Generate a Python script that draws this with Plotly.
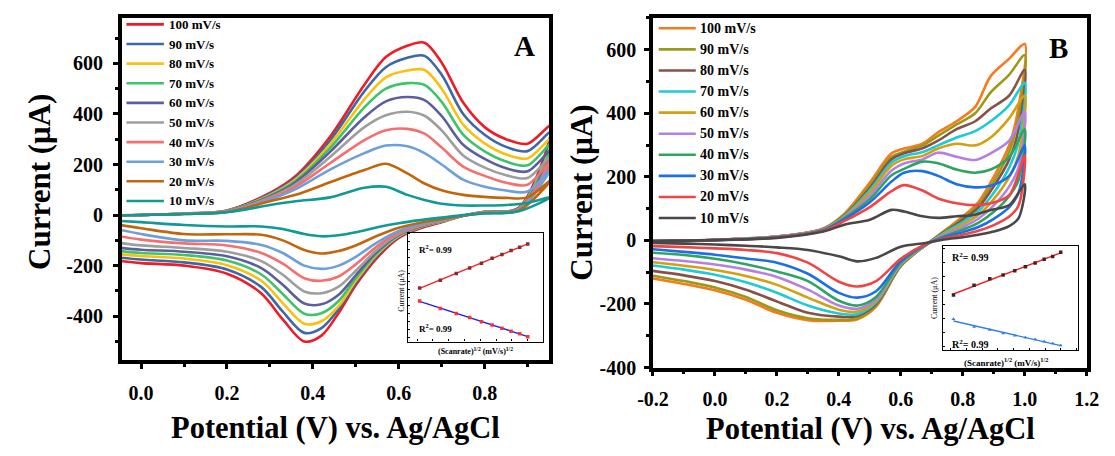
import numpy as np
import plotly.graph_objects as go

W, H = 1115, 456
FONT = "Liberation Serif"

# ---------------- data ----------------
scan_rates = [100, 90, 80, 70, 60, 50, 40, 30, 20, 10]          # mV/s
labels = [f"{v} mV/s" for v in scan_rates]

colors_A = ["#EE1C25", "#3A68A8", "#FBC00F", "#3DC46A", "#5E5E9E",
            "#9E9E9E", "#F76E6E", "#6CA0DA", "#C5650A", "#109A96"]
colors_B = ["#F87A1E", "#9A9A18", "#875149", "#1CCBD8", "#D4A00F",
            "#B57FE3", "#2DA560", "#1D6FE6", "#F04545", "#484848"]

# Panel A: forward (anodic) sweep, potential in V, current in uA
E_fwd_A = [-0.05, 0.10, 0.20, 0.30, 0.36, 0.44, 0.52, 0.57, 0.62, 0.66, 0.70, 0.75, 0.80, 0.85, 0.90, 0.955]
I_fwd_A = [
    [-3, 6, 18, 88, 155, 310, 516, 625, 670, 682, 603, 445, 348, 300, 282, 355],
    [-3, 6, 17, 84, 148, 295, 490, 585, 622, 630, 555, 400, 318, 270, 253, 329],
    [-3, 6, 16, 80, 142, 280, 458, 545, 572, 574, 500, 358, 284, 240, 224, 303],
    [-2, 6, 16, 77, 136, 265, 426, 500, 522, 515, 448, 318, 252, 212, 197, 284],
    [-2, 5, 15, 74, 130, 250, 387, 450, 467, 455, 392, 278, 222, 185, 173, 258],
    [-2, 5, 15, 70, 122, 230, 348, 395, 409, 393, 335, 236, 188, 158, 147, 235],
    [-2, 5, 14, 66, 113, 205, 297, 336, 341, 322, 267, 192, 155, 128, 120, 219],
    [-2, 5, 13, 62, 103, 180, 245, 275, 272, 245, 200, 140, 112, 97, 93, 187],
    [-1, 4, 12, 55, 80, 130, 178, 203, 165, 125, 98, 80, 72, 68, 70, 140],
    [-1, 4, 11, 40, 55, 70, 108, 112, 80, 60, 45, 38, 38, 40, 48, 72],
]
# Panel A: reverse (cathodic) sweep
E_rev_A = [-0.05, 0.0, 0.10, 0.20, 0.28, 0.33, 0.38, 0.42, 0.46, 0.50, 0.55, 0.60, 0.65, 0.70, 0.75, 0.80, 0.88]
I_rev_A = [
    [-181, -190, -200, -232, -310, -413, -500, -477, -387, -277, -168, -90, -52, -28, -3, 13, 30],
    [-168, -176, -187, -215, -285, -382, -466, -447, -372, -268, -160, -86, -49, -26, -3, 13, 28],
    [-155, -162, -172, -198, -260, -348, -430, -420, -360, -260, -154, -83, -47, -25, -3, 12, 26],
    [-142, -150, -158, -180, -235, -312, -390, -388, -340, -250, -149, -80, -45, -24, -3, 12, 25],
    [-129, -137, -145, -163, -210, -276, -350, -353, -315, -238, -143, -78, -44, -23, -3, 11, 24],
    [-110, -120, -130, -145, -182, -236, -302, -309, -283, -220, -136, -75, -42, -22, -3, 11, 23],
    [-84, -97, -112, -120, -150, -192, -250, -260, -243, -195, -123, -70, -40, -21, -3, 10, 22],
    [-58, -75, -100, -102, -118, -150, -200, -213, -200, -165, -108, -63, -37, -20, -2, 9, 20],
    [-39, -52, -75, -76, -78, -100, -138, -152, -142, -120, -82, -50, -30, -16, -2, 8, 18],
    [-23, -28, -39, -45, -45, -55, -75, -84, -80, -68, -48, -32, -20, -10, 0, 6, 15],
]

# Panel B: forward (anodic) sweep
E_fwd_B = [-0.20, 0.0, 0.20, 0.35, 0.42, 0.50, 0.57, 0.61, 0.67, 0.72, 0.78, 0.84, 0.89, 0.95, 1.0]
I_fwd_B = [
    [-5, 2, 12, 38, 86, 182, 274, 289, 304, 340, 375, 420, 517, 572, 618],
    [-4, 2, 12, 37, 83, 172, 263, 279, 299, 329, 365, 400, 466, 522, 583],
    [-4, 2, 12, 36, 80, 165, 255, 274, 290, 314, 350, 375, 415, 456, 537],
    [-4, 2, 11, 35, 78, 158, 245, 265, 278, 299, 324, 344, 375, 426, 496],
    [-3, 2, 11, 35, 76, 150, 235, 255, 266, 289, 304, 299, 324, 385, 456],
    [-3, 2, 11, 34, 74, 140, 220, 242, 255, 276, 263, 253, 274, 314, 405],
    [-3, 1, 10, 33, 72, 130, 205, 225, 248, 243, 223, 213, 223, 263, 350],
    [-2, 1, 10, 32, 68, 120, 185, 213, 218, 203, 177, 167, 172, 203, 299],
    [-2, 1, 9, 30, 62, 105, 155, 174, 157, 132, 117, 111, 117, 142, 268],
    [-1, 1, 8, 28, 50, 65, 96, 91, 76, 71, 76, 81, 96, 111, 177],
]
# Panel B: reverse (cathodic) sweep
E_rev_B = [-0.20, -0.10, 0.0, 0.10, 0.20, 0.30, 0.40, 0.46, 0.52, 0.60, 0.68, 0.74, 0.80, 0.85, 0.90, 0.95, 0.98]
I_rev_B = [
    [-120, -137, -157, -187, -228, -251, -253, -248, -208, -81, -15, 30, 75, 120, 200, 300, 420],
    [-111, -128, -148, -178, -220, -245, -250, -245, -205, -80, -15, 28, 70, 112, 185, 280, 390],
    [-96, -110, -128, -155, -192, -228, -240, -238, -200, -78, -15, 26, 65, 103, 170, 255, 350],
    [-79, -92, -108, -132, -165, -205, -230, -232, -195, -76, -15, 24, 58, 92, 150, 230, 310],
    [-69, -80, -93, -112, -140, -180, -218, -224, -190, -74, -15, 20, 50, 80, 130, 200, 270],
    [-56, -65, -76, -92, -115, -155, -205, -215, -185, -72, -15, 17, 42, 68, 110, 170, 230],
    [-39, -46, -58, -75, -98, -128, -190, -205, -178, -70, -14, 13, 34, 55, 90, 140, 190],
    [-28, -36, -45, -57, -70, -105, -165, -180, -160, -65, -13, 10, 26, 42, 68, 105, 150],
    [-18, -21, -25, -30, -40, -70, -130, -145, -128, -58, -12, 6, 18, 30, 48, 75, 110],
    [-8, -10, -13, -17, -22, -30, -50, -66, -55, -20, -8, 3, 10, 18, 28, 45, 70],
]

# Insets: peak current vs square root of scan rate
inset_rates = [10, 20, 30, 40, 50, 60, 70, 80, 90, 100]
ipa_A = [120, 218, 300, 370, 432, 493, 542, 591, 633, 674]
ipc_A = [-44, -138, -204, -253, -306, -347, -388, -425, -458, -495]
ipa_B = [100, 205, 275, 317, 362, 404, 446, 485, 516, 562]
ipc_B = [-159, -243, -274, -313, -337, -358, -376, -400, -421, -442]

tick_x_A = [0.0, 0.2, 0.4, 0.6, 0.8]
tick_x_A_text = ["0.0", "0.2", "0.4", "0.6", "0.8"]
tick_x_B = [-0.2, 0.0, 0.2, 0.4, 0.6, 0.8, 1.0, 1.2]
tick_x_B_text = ["-0.2", "0.0", "0.2", "0.4", "0.6", "0.8", "1.0", "1.2"]
tick_y = [-400, -200, 0, 200, 400, 600]
tick_y_text = ["-400", "-200", "0", "200", "400", "600"]


def px(x):
    return x / W


def py(y):
    return 1 - y / H


fig = go.Figure()

# ---------------- CV loops ----------------
for k in range(len(scan_rates)):
    xs = E_fwd_A + E_rev_A[::-1]
    ys = I_fwd_A[k] + I_rev_A[k][::-1]
    fig.add_trace(go.Scatter(x=xs, y=ys, mode="lines", xaxis="x", yaxis="y",
                             line=dict(color=colors_A[k], width=2.6, shape="spline", smoothing=0.9),
                             showlegend=False, hoverinfo="skip"))
for k in range(len(scan_rates)):
    xs = E_fwd_B + E_rev_B[::-1]
    ys = I_fwd_B[k] + I_rev_B[k][::-1]
    fig.add_trace(go.Scatter(x=xs, y=ys, mode="lines", xaxis="x2", yaxis="y2",
                             line=dict(color=colors_B[k], width=2.6, shape="spline", smoothing=0.9),
                             showlegend=False, hoverinfo="skip"))

# ---------------- insets ----------------
sq = np.sqrt(inset_rates)


def add_inset(xa, ya, ipa, ipc, up_line, up_mk, dn_line, dn_mk, dn_symbol):
    for vals, lc, mc, sym in ((ipa, up_line, up_mk, "square"), (ipc, dn_line, dn_mk, dn_symbol)):
        slope, icpt = np.polyfit(sq, vals, 1)
        fig.add_trace(go.Scatter(x=[sq[0], sq[-1]], y=[icpt + slope * sq[0], icpt + slope * sq[-1]],
                                 mode="lines", xaxis=xa, yaxis=ya, showlegend=False,
                                 line=dict(color=lc, width=1.4), hoverinfo="skip"))
        fig.add_trace(go.Scatter(x=sq, y=vals, mode="markers", xaxis=xa, yaxis=ya, showlegend=False,
                                 marker=dict(color=mc, size=3.5, symbol=sym), hoverinfo="skip"))


add_inset("x3", "y3", ipa_A, ipc_A, "#FF2020", "#803030", "#2020F0", "#FF3030", "square")
add_inset("x4", "y4", ipa_B, ipc_B, "#F02020", "#402020", "#2F80E0", "#2F80E0", "triangle-up")

# ---------------- axes ----------------
tickfont = dict(family=FONT, size=20, color="black", weight="bold")
main = dict(showgrid=False, zeroline=False, showline=True, linecolor="black", linewidth=3.5,
            mirror=True, ticks="outside", ticklen=5, tickwidth=3, tickcolor="black",
            tickfont=tickfont, tickmode="array")
minor = dict(ticks="outside", ticklen=3, tickwidth=2.5, tickcolor="black", showgrid=False)

inset_ax = dict(showgrid=False, zeroline=False, showline=True, linecolor="black", linewidth=1.2,
                mirror=True, ticks="inside", ticklen=2, tickwidth=0.8, tickcolor="black",
                showticklabels=False)

fig.update_layout(
    width=W, height=H, margin=dict(l=0, r=0, t=0, b=0),
    paper_bgcolor="white", plot_bgcolor="white", showlegend=False,
    xaxis=dict(main, domain=[px(108.5), px(547)], range=[-0.045, 0.9505],
               tickvals=tick_x_A, ticktext=tick_x_A_text, anchor="y", ticklabelstandoff=7,
               minor=dict(minor, tickvals=[-0.1, 0.1, 0.3, 0.5, 0.7, 0.9])),
    yaxis=dict(main, domain=[py(369), py(18.5)], range=[-573.7, 779.5],
               tickvals=tick_y, ticktext=tick_y_text, anchor="x", ticklabelstandoff=6,
               minor=dict(minor, tickvals=[-500, -300, -100, 100, 300, 500, 700])),
    xaxis2=dict(main, domain=[px(653.4), px(1098.3)], range=[-0.2, 1.2],
                tickvals=tick_x_B, ticktext=tick_x_B_text, anchor="y2", ticklabelstandoff=6,
                minor=dict(minor, tickvals=[-0.1, 0.1, 0.3, 0.5, 0.7, 0.9, 1.1])),
    yaxis2=dict(main, domain=[py(376.6), py(18.4)], range=[-400, 700],
                tickvals=tick_y, ticktext=tick_y_text, anchor="x2", ticklabelstandoff=4,
                minor=dict(minor, tickvals=[-300, -100, 100, 300, 500, 700])),
    xaxis3=dict(inset_ax, domain=[px(402), px(541)], range=[2.42, 10.99], anchor="y3", dtick=1),
    yaxis3=dict(inset_ax, domain=[py(350), py(238.5)], range=[-556, 815], anchor="x3", dtick=100),
    xaxis4=dict(inset_ax, domain=[px(951), px(1089)], range=[2.50, 11.08], anchor="y4", dtick=1),
    yaxis4=dict(inset_ax, domain=[py(359), py(251.7)], range=[-495, 632], anchor="x4", dtick=150),
)

# ---------------- text ----------------
ann = []


def text(x, y, s, size, angle=0, xanchor="center"):
    ann.append(dict(x=px(x), y=py(y), xref="paper", yref="paper", text=s, showarrow=False,
                    textangle=angle, xanchor=xanchor, yanchor="middle",
                    font=dict(family=FONT, size=size, color="black")))


text(328, 439, "<b>Potential (V) vs. Ag/AgCl</b>", 30.5)
text(876, 440, "<b>Potential (V) vs. Ag/AgCl</b>", 30.5)
text(24, 186, "<b>Current (μA)</b>", 31, angle=-90)
text(580, 197, "<b>Current (μA)</b>", 31, angle=-90)
text(522, 47, "<b>A</b>", 29)
text(1069, 49, "<b>B</b>", 29)

# inset labels
text(396, 298, "Current (μA)", 8, angle=-90)
text(471, 360, "<b>(Scanrate)<sup>1/2</sup> (mV/s)<sup>1/2</sup></b>", 8)
text(411, 255, "<b>R<sup>2</sup>= 0.99</b>", 9, xanchor="left")
text(411, 336, "<b>R<sup>2</sup>= 0.99</b>", 9, xanchor="left")
text(942, 305, "Current (μA)", 8, angle=-90)
text(1016, 371, "<b>(Scanrate)<sup>1/2</sup> (mV/s)<sup>1/2</sup></b>", 9)
text(958, 263, "<b>R<sup>2</sup>= 0.99</b>", 10, xanchor="left")
text(958, 352, "<b>R<sup>2</sup>= 0.99</b>", 10, xanchor="left")

# legends
shapes = []
for k, lab in enumerate(labels):
    yA = 25 + 20.1 * k
    shapes.append(dict(type="line", xref="paper", yref="paper", x0=px(113.3), x1=px(151.7),
                       y0=py(yA), y1=py(yA), line=dict(color=colors_A[k], width=2.6)))
    text(154.5, yA, f"<b>{lab}</b>", 13, xanchor="left")
    yB = 29 + 21.6 * k
    shapes.append(dict(type="line", xref="paper", yref="paper", x0=px(659.3), x1=px(697.3),
                       y0=py(yB), y1=py(yB), line=dict(color=colors_B[k], width=2.6)))
    text(700, yB, f"<b>{lab}</b>", 14, xanchor="left")

fig.update_layout(annotations=ann, shapes=shapes)
fig.write_html("out.html")
